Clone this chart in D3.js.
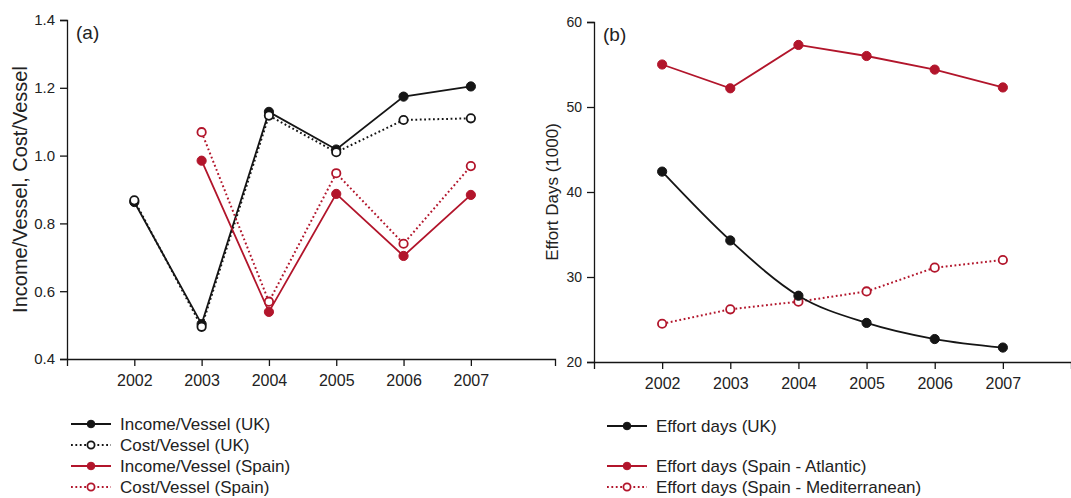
<!DOCTYPE html>
<html>
<head>
<meta charset="utf-8">
<script src="https://cdn.jsdelivr.net/npm/d3@7"></script>
<style>
  body { margin: 0; background: #fff; }
  svg { display: block; font-family: "Liberation Sans", Arial, sans-serif; }
</style>
</head>
<body>
<svg id="chart" width="1071" height="498"></svg>
<script>
// ---- data ----
const years = [2002, 2003, 2004, 2005, 2006, 2007];
const yearsSpain = [2003, 2004, 2005, 2006, 2007];

const incomeUK = [0.863, 0.503, 1.129, 1.018, 1.174, 1.204];
const costUK = [0.868, 0.495, 1.118, 1.010, 1.105, 1.110];
const incomeSpain = [0.985, 0.539, 0.887, 0.704, 0.884];
const costSpain = [1.069, 0.569, 0.948, 0.740, 0.969];

const effortUK = [42.4, 34.3, 27.8, 24.6, 22.7, 21.7];
const effortAtlantic = [55.0, 52.2, 57.3, 56.0, 54.4, 52.3];
const effortMed = [24.5, 26.2, 27.1, 28.3, 31.1, 32.0];

const ticksA = [0.4, 0.6, 0.8, 1.0, 1.2, 1.4];
const ticksB = [20, 30, 40, 50, 60];

const red = "#b2152b";
const black = "#151515";

const svg = d3.select("#chart");

function zip(xs, ys) { return xs.map((x, i) => ({ year: x, value: ys[i] })); }

function panel(opt) {
  const x = d3.scaleLinear().domain([2001, opt.xEnd]).range([opt.left, opt.right]);
  const y = d3.scaleLinear().domain(opt.yDomain).range([opt.bottom, opt.top]);
  const g = svg.append("g");

  // axes
  g.append("g")
    .attr("transform", `translate(0,${opt.bottom})`)
    .call(d3.axisBottom(x).tickValues(years).tickFormat(d3.format("d")).tickSizeOuter(0).tickSize(7).tickPadding(9))
    .call(a => a.selectAll("text").attr("font-size", 16).attr("fill", "#222").attr("font-family", "Liberation Sans, Arial"))
    .call(a => a.selectAll("line,path").attr("stroke", black).attr("stroke-width", 1.3));

  g.append("g")
    .attr("transform", `translate(${opt.left},0)`)
    .call(d3.axisLeft(y).tickValues(opt.ticks).tickFormat(opt.fmt).tickSizeOuter(0).tickSize(7).tickPadding(5))
    .call(a => a.selectAll("text").attr("font-size", opt.yTickSize).attr("fill", "#222").attr("font-family", "Liberation Sans, Arial"))
    .call(a => a.selectAll("line,path").attr("stroke", black).attr("stroke-width", 1.3));

  // y title
  g.append("text")
    .attr("transform", `translate(${opt.titleX},${(opt.top + opt.bottom) / 2}) rotate(-90)`)
    .attr("text-anchor", "middle")
    .attr("font-size", opt.titleSize)
    .attr("fill", "#222")
    .text(opt.title);

  // panel tag
  g.append("text")
    .attr("x", opt.left + 9)
    .attr("y", opt.top + 19)
    .attr("font-size", 19)
    .attr("fill", "#222")
    .text(opt.tag);

  opt.series.forEach(s => {
    const pts = zip(s.x, s.y);
    const line = d3.line().x(d => x(d.year)).y(d => y(d.value)).curve(s.curve || d3.curveLinear);
    g.append("path")
      .attr("d", line(pts))
      .attr("fill", "none")
      .attr("stroke", s.color)
      .attr("stroke-width", s.dotted ? 2 : 1.8)
      .attr("stroke-dasharray", s.dotted ? "1.8,2.6" : null);
    g.selectAll(null).data(pts).enter().append("circle")
      .attr("cx", d => x(d.year))
      .attr("cy", d => y(d.value))
      .attr("r", s.open ? 4.2 : 4.6)
      .attr("fill", s.open ? "#fff" : s.color)
      .attr("stroke", s.color)
      .attr("stroke-width", s.open ? 1.8 : 1);
  });

  // legend
  const lg = g.append("g");
  opt.series.forEach(s => {
    const cy = opt.legendRows[s.row];
    const lx = opt.legendX;
    lg.append("line")
      .attr("x1", lx).attr("x2", lx + 40).attr("y1", cy).attr("y2", cy)
      .attr("stroke", s.color).attr("stroke-width", s.dotted ? 2 : 1.8)
      .attr("stroke-dasharray", s.dotted ? "1.8,2.6" : null);
    lg.append("circle")
      .attr("cx", lx + 20).attr("cy", cy)
      .attr("r", s.open ? 3.6 : 3.8)
      .attr("fill", s.open ? "#fff" : s.color)
      .attr("stroke", s.color)
      .attr("stroke-width", s.open ? 1.8 : 1);
    lg.append("text")
      .attr("x", lx + 49).attr("y", cy + 5.5)
      .attr("font-size", 17)
      .attr("fill", "#222")
      .text(s.label);
  });
}

panel({
  left: 67, right: 555, top: 20, bottom: 359,
  xEnd: 2008.25,
  yDomain: [0.4, 1.4],
  ticks: ticksA,
  fmt: d3.format(".1f"),
  yTickSize: 15,
  title: "Income/Vessel, Cost/Vessel",
  titleSize: 20,
  titleX: 27,
  tag: "(a)",
  legendX: 71,
  legendRows: [424, 445, 466, 487],
  series: [
    { x: years, y: incomeUK, color: black, label: "Income/Vessel (UK)", row: 0 },
    { x: years, y: costUK, color: black, open: true, dotted: true, label: "Cost/Vessel (UK)", row: 1 },
    { x: yearsSpain, y: incomeSpain, color: red, label: "Income/Vessel (Spain)", row: 2 },
    { x: yearsSpain, y: costSpain, color: red, open: true, dotted: true, label: "Cost/Vessel (Spain)", row: 3 }
  ]
});

panel({
  left: 594, right: 1071, top: 22, bottom: 362,
  xEnd: 2008,
  yDomain: [20, 60],
  ticks: ticksB,
  fmt: d3.format("d"),
  yTickSize: 14,
  title: "Effort Days (1000)",
  titleSize: 17,
  titleX: 558,
  tag: "(b)",
  legendX: 607,
  legendRows: [426, 445, 466, 487],
  series: [
    { x: years, y: effortAtlantic, color: red, label: "Effort days (Spain - Atlantic)", row: 2 },
    { x: years, y: effortMed, color: red, open: true, dotted: true, label: "Effort days (Spain - Mediterranean)", row: 3 },
    { x: years, y: effortUK, color: black, curve: d3.curveMonotoneX, label: "Effort days (UK)", row: 0 }
  ]
});
</script>
</body>
</html>
